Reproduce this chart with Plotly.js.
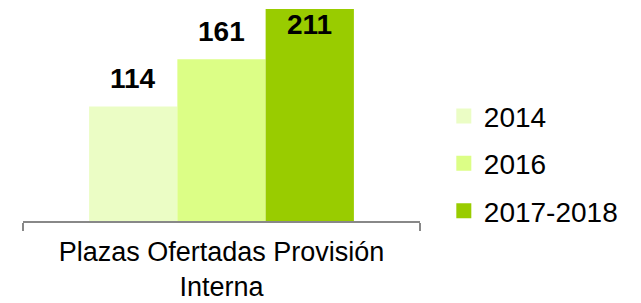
<!DOCTYPE html>
<html><head><meta charset="utf-8">
<script src="https://cdn.plot.ly/plotly-3.0.1.min.js"></script>
<style>html,body{margin:0;padding:0;background:#fff}#c{width:641px;height:303px}</style>
</head><body><div id="c"></div>
<script>
const category = ["Plazas Ofertadas Provisión<br>Interna"];
const seriesNames = ["2014", "2016", "2017-2018"];
const values = [114, 161, 211];
const colors = ["#EBFDC5", "#DCFE86", "#99CC00"];
const yMax = 211;

const FONT = "Liberation Sans, Arial, sans-serif";
const bargap = 0.333;
const barW = (1 - bargap) / seriesNames.length;
const plotH = 303 - 9 - 81.5;
const pxPerUnit = plotH / yMax;

const traces = [];
seriesNames.forEach((n, i) => {
  traces.push({type: 'bar', name: n, x: category, y: [values[i]],
    marker: {color: colors[i], line: {width: 0}}, showlegend: false, hoverinfo: 'none'});
});
seriesNames.forEach((n, i) => {
  traces.push({type: 'scatter', mode: 'markers', name: n, x: [null], y: [null],
    marker: {symbol: 'square', size: 15, color: colors[i]}, legendgroup: 'g' + i, showlegend: true});
});

const annotations = values.map((v, i) => {
  const outside = v + 40 / pxPerUnit <= yMax;
  return {xref: 'x', yref: 'y', x: (i - (values.length - 1) / 2) * barW, y: v,
    text: '<b>' + v + '</b>', showarrow: false, yanchor: 'middle',
    yshift: outside ? 28 : -15, font: {family: FONT, size: 28, color: '#000'}};
});

const layout = {
  width: 641, height: 303,
  margin: {l: 23, r: 221, t: 9, b: 81.5},
  paper_bgcolor: '#fff', plot_bgcolor: '#fff',
  barmode: 'group', bargap: bargap, bargroupgap: 0,
  font: {family: FONT, color: '#000'},
  xaxis: {type: 'category', range: [-0.5, 0.5], tickson: 'boundaries', ticks: 'outside',
    ticklen: 8, tickcolor: '#888', tickwidth: 1.5, showline: true, linecolor: '#888', linewidth: 1.5,
    ticklabelstandoff: 6,
    tickfont: {family: FONT, size: 27, color: '#000'}, showgrid: false, fixedrange: true},
  yaxis: {range: [0, yMax], tickvals: [yMax], showticklabels: false, showgrid: true,
    gridcolor: '#8c8c8c', gridwidth: 2, zeroline: false, showline: false, ticks: '', fixedrange: true},
  legend: {x: 1.06, xanchor: 'left', y: 0.27, yanchor: 'middle', traceorder: 'grouped', tracegroupgap: 8,
    font: {family: FONT, size: 28, color: '#000'}, itemwidth: 30, bgcolor: 'rgba(0,0,0,0)'},
  annotations: annotations,
  showlegend: true
};
Plotly.newPlot('c', traces, layout, {staticPlot: true});
</script></body></html>
